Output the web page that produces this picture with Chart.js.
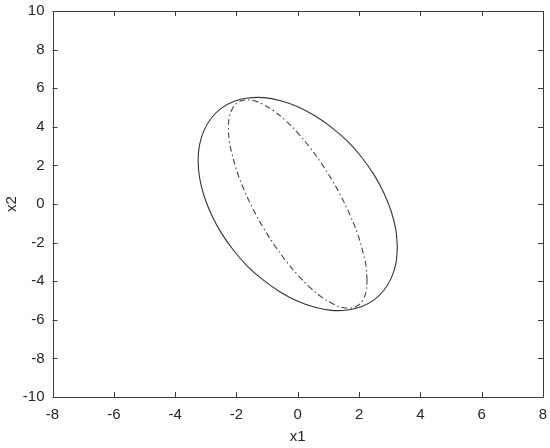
<!DOCTYPE html>
<html>
<head>
<meta charset="utf-8">
<script src="https://cdn.jsdelivr.net/npm/chart.js@4/dist/chart.umd.min.js"></script>
<style>
  body { margin: 0; background: #fff; }
  canvas { display: block; }
</style>
</head>
<body>
<canvas id="chart" width="550" height="448"></canvas>
<script>
// outer ellipse (solid)
const solidX = [3.25, 3.20, 3.05, 2.81, 2.49, 2.09, 1.63, 1.11, 0.56, 0, -0.56, -1.11, -1.63, -2.09, -2.49, -2.81, -3.05, -3.20,
                -3.25, -3.20, -3.05, -2.81, -2.49, -2.09, -1.63, -1.11, -0.56, 0, 0.56, 1.11, 1.63, 2.09, 2.49, 2.81, 3.05, 3.20, 3.25];
const solidY = [-2.25, -1.34, -0.39, 0.57, 1.51, 2.41, 3.24, 3.96, 4.57, 5.04, 5.35, 5.51, 5.49, 5.31, 4.97, 4.47, 3.84, 3.09,
                2.25, 1.34, 0.39, -0.57, -1.51, -2.41, -3.24, -3.96, -4.57, -5.04, -5.35, -5.51, -5.49, -5.31, -4.97, -4.47, -3.84, -3.09, -2.25];

// inner ellipse (dash-dot)
const dashX = [2.26, 2.23, 2.12, 1.96, 1.73, 1.45, 1.13, 0.77, 0.39, 0, -0.39, -0.77, -1.13, -1.45, -1.73, -1.96, -2.12, -2.23,
               -2.26, -2.23, -2.12, -1.96, -1.73, -1.45, -1.13, -0.77, -0.39, 0, 0.39, 0.77, 1.13, 1.45, 1.73, 1.96, 2.12, 2.23, 2.26];
const dashY = [-3.95, -3.25, -2.45, -1.58, -0.66, 0.28, 1.21, 2.11, 2.94, 3.68, 4.31, 4.81, 5.16, 5.36, 5.39, 5.26, 4.97, 4.53,
               3.95, 3.25, 2.45, 1.58, 0.66, -0.28, -1.21, -2.11, -2.94, -3.68, -4.31, -4.81, -5.16, -5.36, -5.39, -5.26, -4.97, -4.53, -3.95];

const xRange = [-8, 8];
const yRange = [-10, 10];
const tickStep = 2;
const xTitle = 'x1';
const yTitle = 'x2';

const toPoints = (xs, ys) => xs.map((v, i) => ({ x: v, y: ys[i] }));

const axisColor = '#3c3c3c';
const font = { family: "'Liberation Sans', Arial, sans-serif", size: 15 };

// matlab style box with inward ticks on all four sides
const boxTicks = {
    id: 'boxTicks',
    afterDraw(chart) {
        const { ctx, chartArea: a, scales: { x, y } } = chart;
        const len = 5;
        ctx.save();
        ctx.strokeStyle = axisColor;
        ctx.lineWidth = 1;
        ctx.beginPath();
        ctx.rect(Math.round(a.left) + 0.5, Math.round(a.top) + 0.5,
                 Math.round(a.right) - Math.round(a.left), Math.round(a.bottom) - Math.round(a.top));
        x.ticks.forEach(t => {
            const px = Math.round(x.getPixelForValue(t.value)) + 0.5;
            ctx.moveTo(px, a.bottom); ctx.lineTo(px, a.bottom - len);
            ctx.moveTo(px, a.top); ctx.lineTo(px, a.top + len);
        });
        y.ticks.forEach(t => {
            const py = Math.round(y.getPixelForValue(t.value)) + 0.5;
            ctx.moveTo(a.left, py); ctx.lineTo(a.left + len, py);
            ctx.moveTo(a.right, py); ctx.lineTo(a.right - len, py);
        });
        ctx.stroke();
        ctx.restore();
    }
};

new Chart(document.getElementById('chart'), {
    type: 'scatter',
    data: {
        datasets: [{
            data: toPoints(solidX, solidY),
            showLine: true,
            borderColor: '#333333',
            borderWidth: 1.1,
            pointRadius: 0,
            tension: 0.4
        }, {
            data: toPoints(dashX, dashY),
            showLine: true,
            borderColor: '#444444',
            borderWidth: 1.1,
            borderDash: [6, 3, 1.5, 3],
            pointRadius: 0,
            tension: 0.4
        }]
    },
    options: {
        responsive: false,
        devicePixelRatio: 1,
        animation: false,
        events: [],
        layout: { padding: { top: 11, right: 7, left: 0, bottom: 0 } },
        plugins: { legend: { display: false }, tooltip: { enabled: false } },
        scales: {
            x: {
                min: xRange[0], max: xRange[1],
                grid: { display: false, drawTicks: false },
                border: { display: false },
                ticks: { stepSize: tickStep, color: '#262626', font: font, padding: 9, maxRotation: 0 },
                title: { display: true, text: xTitle, color: '#262626', font: font, padding: { top: 4, bottom: 2 } },
                afterFit(scale) {
                    scale.height = 51;
                    scale.paddingLeft = 0;
                    scale.paddingRight = 0;
                }
            },
            y: {
                min: yRange[0], max: yRange[1],
                grid: { display: false, drawTicks: false },
                border: { display: false },
                ticks: { stepSize: tickStep, color: '#262626', font: font, padding: 8 },
                title: { display: true, text: yTitle, color: '#262626', font: font, padding: { top: 3, bottom: 4 } },
                afterFit(scale) {
                    scale.width = 52.5;
                    scale.paddingTop = 0;
                    scale.paddingBottom = 0;
                }
            }
        }
    },
    plugins: [boxTicks]
});
</script>
</body>
</html>
